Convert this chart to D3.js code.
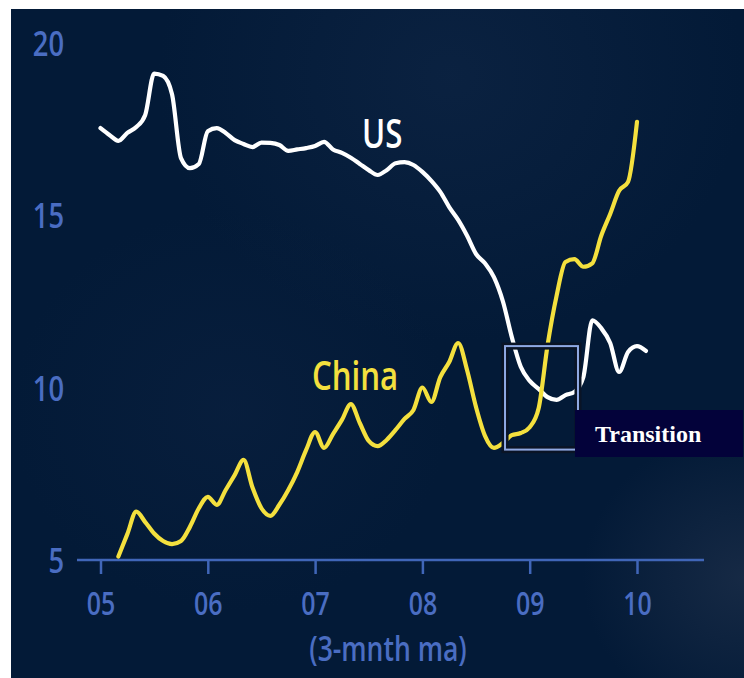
<!DOCTYPE html>
<html>
<head>
<meta charset="utf-8">
<script src="https://cdn.jsdelivr.net/npm/d3@7/dist/d3.min.js"></script>
<style>
  html, body { margin: 0; padding: 0; background: #ffffff; }
  svg { display: block; }
</style>
</head>
<body>
<svg id="chart" width="744" height="678"></svg>
<script>
// Monthly series, Jan 2005 onward (3-month moving average)
const startYear = 2005;
const usValues = [17.52, 17.32, 17.15, 17.38, 17.55, 17.9, 19.1, 19.03, 18.5, 16.65,
  16.36, 16.48, 17.43, 17.52, 17.38, 17.17, 17.06, 16.97, 17.1, 17.09,
  17.03, 16.86, 16.9, 16.94, 17.0, 17.12, 16.9, 16.8, 16.66, 16.48,
  16.3, 16.16, 16.3, 16.5, 16.53, 16.45, 16.25, 15.99, 15.67, 15.23,
  14.86, 14.4, 13.87, 13.6, 13.2, 12.5, 11.46, 10.6, 10.19, 9.96,
  9.72, 9.64, 9.78, 9.87, 10.3, 11.95, 11.72, 11.29, 10.45, 11.03,
  11.2, 11.06];
const chinaValues = [null, null, 5.1, 5.75, 6.4, 6.1, 5.77, 5.55, 5.46, 5.55,
  5.96, 6.5, 6.83, 6.6, 7.03, 7.46, 7.9, 7.1, 6.5, 6.28,
  6.6, 7.03, 7.55, 8.19, 8.71, 8.25, 8.65, 9.06, 9.52, 8.97,
  8.45, 8.3, 8.48, 8.77, 9.09, 9.35, 10.0, 9.58, 10.3, 10.74,
  11.29, 10.5, 9.43, 8.6, 8.25, 8.39, 8.62, 8.68, 8.85, 9.4,
  11.23, 12.65, 13.64, 13.72, 13.5, 13.6, 14.4, 15.03, 15.7, 15.96,
  17.7];
const yearTicks = [2005, 2006, 2007, 2008, 2009, 2010];
const yearLabels = ["05", "06", "07", "08", "09", "10"];
const valueTicks = [5, 10, 15, 20];
const seriesNames = ["US", "China"];
const axisNote = "(3-mnth ma)";
const calloutText = "Transition";
// highlighted window: [start, end] in years, [low, high] in values
const transitionSpan = [2008.77, 2009.45];
const transitionRange = [8.2, 11.2];

const svg = d3.select("#chart");
const W = 744, H = 678;

// background panel with faint haze
const defs = svg.append("defs");
function haze(id, cx, cy, r, color, op) {
  const g = defs.append("radialGradient").attr("id", id)
    .attr("cx", cx).attr("cy", cy).attr("r", r);
  g.append("stop").attr("offset", "0%").attr("stop-color", color).attr("stop-opacity", op);
  g.append("stop").attr("offset", "100%").attr("stop-color", color).attr("stop-opacity", 0);
}
haze("hazeA", 0.6, 0.1, 0.4, "#12294a", 0.5);
haze("hazeB", 1.0, 0.85, 0.22, "#23344e", 0.6);
haze("hazeC", 0.3, 0.6, 0.3, "#0c2242", 0.5);

const panel = { x: 11, y: 9, w: W - 11, h: H - 9 };
svg.append("rect").attr("x", panel.x).attr("y", panel.y).attr("width", panel.w).attr("height", panel.h)
  .attr("fill", "#031a37");
["hazeA", "hazeB", "hazeC"].forEach(id => {
  svg.append("rect").attr("x", panel.x).attr("y", panel.y).attr("width", panel.w).attr("height", panel.h)
    .attr("fill", `url(#${id})`);
});

// scales
const x = d3.scaleLinear().domain([2005, 2010]).range([100.5, 637]);
const y = d3.scaleLinear().domain([5, 20]).range([560, 42.5]);

const axisBlue = "#4066b8";
const labelBlue = "#4a6dc2";
const sans = "'Open Sans', 'Noto Sans', sans-serif";
const squeeze = "scale(0.78,1)";

// x axis
const xAxis = d3.axisBottom(x)
  .tickValues(yearTicks)
  .tickFormat((d, i) => yearLabels[i])
  .tickSize(14)
  .tickSizeOuter(0)
  .tickPadding(0);
const gx = svg.append("g").attr("transform", `translate(0,${y(5)})`).call(xAxis);
gx.select(".domain").remove();
gx.insert("line", ":first-child")
  .attr("x1", 77).attr("x2", 704).attr("y1", 0).attr("y2", 0)
  .attr("stroke", axisBlue).attr("stroke-width", 2.5);
gx.selectAll(".tick line").attr("stroke", axisBlue).attr("stroke-width", 2.5);
gx.selectAll(".tick text")
  .attr("fill", labelBlue)
  .attr("font-family", sans)
  .attr("font-weight", 600)
  .attr("font-size", 32)
  .attr("y", 55.5)
  .attr("dy", null)
  .attr("transform", squeeze);

// y axis labels (no axis line)
const yAxis = d3.axisLeft(y).tickValues(valueTicks).tickSize(0).tickPadding(0).tickFormat(d3.format("d"));
const gy = svg.append("g").attr("transform", "translate(64,0)").call(yAxis);
gy.select(".domain").remove();
gy.selectAll(".tick text")
  .attr("fill", labelBlue)
  .attr("font-family", sans)
  .attr("font-weight", 600)
  .attr("font-size", 35)
  .attr("dy", "0.36em")
  .attr("transform", squeeze);

svg.append("text")
  .attr("transform", `translate(388,661) ${squeeze}`)
  .attr("text-anchor", "middle")
  .attr("fill", labelBlue)
  .attr("font-family", sans)
  .attr("font-weight", 600)
  .attr("font-size", 34)
  .text(axisNote);

// series lines
const monthDate = i => startYear + i / 12;
const line = d3.line()
  .defined(d => d != null)
  .x((d, i) => x(monthDate(i)))
  .y(d => y(d))
  .curve(d3.curveMonotoneX);

svg.append("path")
  .attr("d", line(usValues))
  .attr("fill", "none")
  .attr("stroke", "#ffffff")
  .attr("stroke-width", 4.2)
  .attr("stroke-linejoin", "round")
  .attr("stroke-linecap", "round");

svg.append("path")
  .attr("d", line(chinaValues))
  .attr("fill", "none")
  .attr("stroke", "#f4e03e")
  .attr("stroke-width", 4.2)
  .attr("stroke-linejoin", "round")
  .attr("stroke-linecap", "round");

// series labels
svg.append("text")
  .attr("transform", `translate(362,148) ${squeeze}`)
  .attr("fill", "#ffffff")
  .attr("font-family", sans)
  .attr("font-weight", 600)
  .attr("font-size", 40)
  .text(seriesNames[0]);
svg.append("text")
  .attr("transform", `translate(312,390) ${squeeze}`)
  .attr("fill", "#f4e03e")
  .attr("font-family", sans)
  .attr("font-weight", 600)
  .attr("font-size", 40)
  .text(seriesNames[1]);

// transition window
const bx0 = x(transitionSpan[0]), bx1 = x(transitionSpan[1]);
const by0 = y(transitionRange[1]), by1 = y(transitionRange[0]);
svg.append("rect")
  .attr("x", bx0).attr("y", by0).attr("width", bx1 - bx0).attr("height", by1 - by0)
  .attr("fill", "none").attr("stroke", "#0a1426").attr("stroke-width", 7);
svg.append("rect")
  .attr("x", bx0).attr("y", by0).attr("width", bx1 - bx0).attr("height", by1 - by0)
  .attr("fill", "none").attr("stroke", "#8fa9e4").attr("stroke-width", 2);

// callout tag
svg.append("rect")
  .attr("x", 575).attr("y", 410).attr("width", 168).attr("height", 47)
  .attr("fill", "#03023a");
svg.append("text")
  .attr("x", 595).attr("y", 442)
  .attr("fill", "#ffffff")
  .attr("font-family", "'Liberation Serif', 'Times New Roman', serif")
  .attr("font-weight", "bold")
  .attr("font-size", 24)
  .text(calloutText);
</script>
</body>
</html>
